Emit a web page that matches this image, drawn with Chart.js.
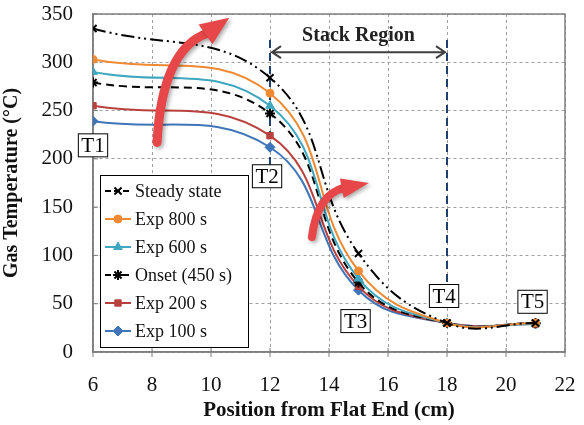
<!DOCTYPE html>
<html><head><meta charset="utf-8">
<script src="https://cdn.jsdelivr.net/npm/chart.js@4/dist/chart.umd.min.js"></script>
<style>html,body{margin:0;padding:0;background:#fff}#wrap{width:584px;height:425px}</style>
</head><body><div id="wrap"><canvas id="c" width="584" height="425"></canvas></div>
<script>
// ---- data ----
const positions = [6, 12, 15, 18, 21];
const steadyState = [335, 284, 102, 30, 30];
const exp800 = [303, 268, 84, 30, 30];
const exp600 = [290, 255, 76, 30, 29];
const onset450 = [279, 247, 72, 30, 30];
const exp200 = [255, 224, 68, 30, 29];
const exp100 = [239, 212, 64, 30, 29];
const seriesNames = ['Steady state', 'Exp 800 s', 'Exp 600 s', 'Onset (450 s)', 'Exp 200 s', 'Exp 100 s'];
const xTickValues = [6, 8, 10, 12, 14, 16, 18, 20, 22];
const yTickValues = [0, 50, 100, 150, 200, 250, 300, 350];
const sensorLabels = ['T1', 'T2', 'T3', 'T4', 'T5'];
const sensorLabelPos = [[6, 214], [11.9, 182], [14.9, 32], [17.9, 58], [20.9, 52]];
const stackStart = 12, stackEnd = 18;
const stackLabel = 'Stack Region';

const SERIF = '"Liberation Serif", "Times New Roman", serif';
const toXY = arr => arr.map((v, i) => ({x: positions[i], y: v}));

const styles = [
  {color: '#000000', style: 'crossRot', dash: [13, 4, 2, 4, 2, 4], r: 5, bw: 2},
  {color: '#F08A32', style: 'circle', dash: [], r: 4, bw: 1},
  {color: '#3FA7BF', style: 'triangle', dash: [], r: 5, bw: 1},
  {color: '#000000', style: 'star', dash: [8, 5], r: 5, bw: 2},
  {color: '#B8413E', style: 'rect', dash: [], r: 4.5, bw: 1},
  {color: '#3E74B8', style: 'rectRot', dash: [], r: 5, bw: 1}
];
const seriesData = [steadyState, exp800, exp600, onset450, exp200, exp100];

const datasets = seriesData.map((d, i) => ({
  label: seriesNames[i],
  data: toXY(d),
  borderColor: styles[i].color,
  backgroundColor: styles[i].color,
  borderWidth: 2,
  borderDash: styles[i].dash,
  pointStyle: styles[i].style,
  pointRadius: styles[i].r,
  pointBorderWidth: styles[i].bw,
  pointBackgroundColor: styles[i].color,
  pointBorderColor: styles[i].color,
  tension: 0.42,
  fill: false
}));

function redArrow(ctx, pts, w, headW) {
  const [tail, ctrl, base, tip] = pts;
  ctx.save();
  ctx.shadowColor = 'rgba(0,0,0,0.35)'; ctx.shadowBlur = 4; ctx.shadowOffsetX = 2; ctx.shadowOffsetY = 2;
  ctx.strokeStyle = '#E8474A'; ctx.fillStyle = '#E8474A';
  ctx.lineWidth = w; ctx.lineCap = 'round';
  ctx.beginPath(); ctx.moveTo(tail.x, tail.y); ctx.quadraticCurveTo(ctrl.x, ctrl.y, base.x, base.y); ctx.stroke();
  const dx = tip.x - base.x, dy = tip.y - base.y, L = Math.hypot(dx, dy);
  const px = -dy / L, py = dx / L;
  ctx.beginPath();
  ctx.moveTo(base.x + px * headW / 2 - dx / L * 2, base.y + py * headW / 2 - dy / L * 2);
  ctx.lineTo(tip.x, tip.y);
  ctx.lineTo(base.x - px * headW / 2 - dx / L * 2, base.y - py * headW / 2 - dy / L * 2);
  ctx.closePath(); ctx.fill();
  ctx.restore();
}

const annot = {
  id: 'annot',
  beforeDatasetsDraw(chart) {
    const {ctx, chartArea: a, scales: {x, y}} = chart;
    ctx.save();
    ctx.strokeStyle = '#7f7f7f'; ctx.lineWidth = 1;
    ctx.beginPath();
    yTickValues.forEach(v => { const py = y.getPixelForValue(v); ctx.moveTo(a.left, py); ctx.lineTo(a.left + 5, py); });
    xTickValues.forEach(v => { const px = x.getPixelForValue(v); ctx.moveTo(px, a.bottom - 4); ctx.lineTo(px, a.bottom + 5); });
    ctx.stroke();
    ctx.strokeStyle = '#7f7f7f'; ctx.lineWidth = 1.5;
    ctx.strokeRect(a.left, a.top, a.right - a.left, a.bottom - a.top);
    ctx.strokeStyle = '#1F3F6E'; ctx.lineWidth = 2; ctx.setLineDash([8, 5]);
    ctx.beginPath();
    ctx.moveTo(x.getPixelForValue(stackStart), y.getPixelForValue(323));
    ctx.lineTo(x.getPixelForValue(stackStart), y.getPixelForValue(193));
    ctx.moveTo(x.getPixelForValue(stackEnd), y.getPixelForValue(323));
    ctx.lineTo(x.getPixelForValue(stackEnd), y.getPixelForValue(69));
    ctx.stroke();
    ctx.restore();
  },
  afterDatasetsDraw(chart) {
    const {ctx, scales: {x, y}} = chart;
    const P = (vx, vy) => ({x: x.getPixelForValue(vx), y: y.getPixelForValue(vy)});
    ctx.save();
    const s = P(stackStart, 310.5), e = P(stackEnd, 310.5);
    s.x += 2; e.x -= 2;
    ctx.strokeStyle = '#404040'; ctx.lineWidth = 2;
    ctx.beginPath(); ctx.moveTo(s.x, s.y); ctx.lineTo(e.x, e.y);
    ctx.moveTo(s.x + 9, s.y - 6); ctx.lineTo(s.x, s.y); ctx.lineTo(s.x + 9, s.y + 6);
    ctx.moveTo(e.x - 9, e.y - 6); ctx.lineTo(e.x, e.y); ctx.lineTo(e.x - 9, e.y + 6);
    ctx.stroke();
    ctx.fillStyle = '#222'; ctx.font = 'bold 20px ' + SERIF;
    ctx.textAlign = 'center'; ctx.textBaseline = 'middle';
    const t = P((stackStart + stackEnd) / 2, 327);
    ctx.fillText(stackLabel, t.x, t.y);
    ctx.font = '21px ' + SERIF;
    sensorLabels.forEach((lb, i) => {
      const p = P(sensorLabelPos[i][0], sensorLabelPos[i][1]);
      const w = ctx.measureText(lb).width + 6, h = 23;
      ctx.fillStyle = '#fff'; ctx.fillRect(p.x - w / 2, p.y - h / 2, w, h);
      ctx.strokeStyle = '#000'; ctx.lineWidth = 1; ctx.strokeRect(p.x - w / 2, p.y - h / 2, w, h);
      ctx.fillStyle = '#000'; ctx.fillText(lb, p.x, p.y + 1);
    });
    ctx.restore();
    redArrow(ctx, [P(8.17, 217), P(8.34, 313), P(9.87, 330), P(10.62, 346)], 9, 24);
    redArrow(ctx, [P(13.42, 119), P(13.6, 163), P(14.5, 170), P(15.35, 175)], 8, 20);
  },
  afterDraw(chart) {
    const {ctx} = chart;
    const bx = 100, by = 175, bw = 148, bh = 172;
    ctx.save();
    ctx.fillStyle = '#fff'; ctx.fillRect(bx, by, bw, bh);
    ctx.strokeStyle = '#000'; ctx.lineWidth = 1; ctx.strokeRect(bx + 0.5, by + 0.5, bw, bh);
    ctx.font = '18px ' + SERIF; ctx.textBaseline = 'middle'; ctx.textAlign = 'left';
    chart.data.datasets.forEach((ds, i) => {
      const cy = by + 16 + i * 28;
      ctx.strokeStyle = ds.borderColor; ctx.lineWidth = 2;
      ctx.setLineDash(ds.borderDash && ds.borderDash.length ? [6, 3] : []);
      ctx.beginPath(); ctx.moveTo(105, cy); ctx.lineTo(131, cy); ctx.stroke();
      ctx.setLineDash([]);
      ctx.fillStyle = ds.pointBackgroundColor; ctx.strokeStyle = ds.pointBorderColor;
      ctx.lineWidth = ds.pointBorderWidth;
      Chart.helpers.drawPoint(ctx, {pointStyle: ds.pointStyle, radius: ds.pointRadius, rotation: 0, borderWidth: ds.pointBorderWidth}, 118, cy);
      ctx.fillStyle = '#111';
      ctx.fillText(ds.label, 135, cy + 1);
    });
    ctx.restore();
  }
};

new Chart(document.getElementById('c'), {
  type: 'line',
  data: {datasets},
  options: {
    responsive: false, animation: false, devicePixelRatio: 1,
    layout: {padding: {top: 14, right: 19, left: 0, bottom: 0}},
    plugins: {legend: {display: false}, tooltip: {enabled: false}},
    scales: {
      x: {
        type: 'linear', min: 6, max: 22,
        afterBuildTicks: s => { s.ticks = xTickValues.map(v => ({value: v})); },
        afterFit: s => { s.height = 73; s.paddingLeft = 0; s.paddingRight = 0; },
        grid: {color: '#a0a0a0', drawTicks: false},
        border: {display: true, color: '#7f7f7f', width: 1.5, dash: [3, 3]},
        ticks: {font: {family: SERIF, size: 21}, color: '#111', padding: 21, maxRotation: 0},
        title: {display: true, text: 'Position from Flat End (cm)', font: {family: SERIF, size: 21, weight: 'bold'}, color: '#111', padding: {top: 0, bottom: 2}}
      },
      y: {
        type: 'linear', min: 0, max: 350,
        afterBuildTicks: s => { s.ticks = yTickValues.map(v => ({value: v})); },
        afterFit: s => { s.width = 93; s.paddingTop = 0; s.paddingBottom = 0; },
        grid: {color: '#a0a0a0', drawTicks: false},
        border: {display: true, color: '#7f7f7f', width: 1.5, dash: [3, 3]},
        ticks: {font: {family: SERIF, size: 21}, color: '#111', padding: 20},
        title: {display: true, text: 'Gas Temperature (°C)', font: {family: SERIF, size: 20, weight: 'bold'}, color: '#111', padding: {top: 0, bottom: 4}}
      }
    }
  },
  plugins: [annot]
});
</script>
</body></html>
